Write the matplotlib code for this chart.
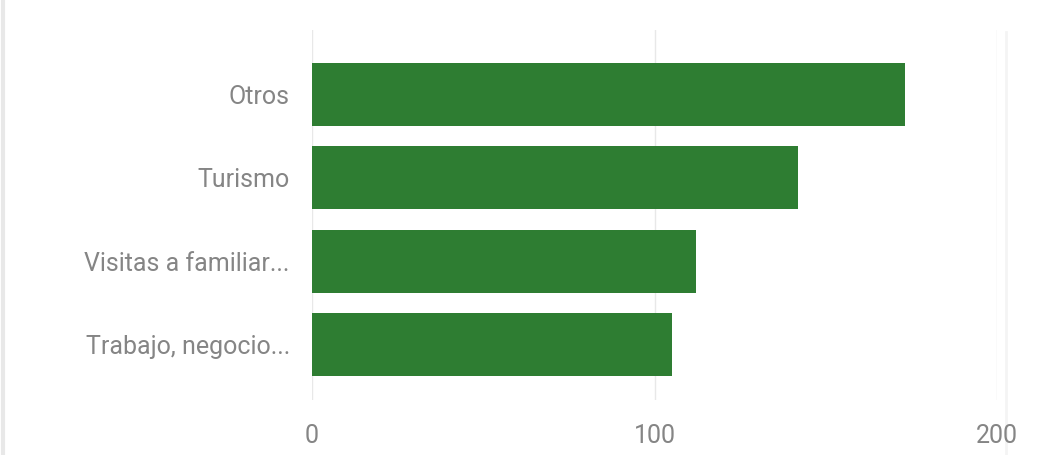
import matplotlib.pyplot as plt
from matplotlib.lines import Line2D

# categories from bottom to top
categories = ['Trabajo, negocio...', 'Visitas a familiar...', 'Turismo', 'Otros']
values = [105, 112, 142, 173]
xticks = [0, 100, 200]

fig = plt.figure(figsize=(10.5, 4.55), dpi=100)
ax = fig.add_axes([312 / 1050, 55 / 455, 685 / 1050, 370 / 455])

ax.barh(range(len(categories)), values, height=0.755, color='#2e7d32', zorder=2)

ax.set_xlim(0, 200)
ax.set_ylim(-0.66, 3.77)
ax.set_yticks(range(len(categories)))
ax.set_yticklabels(categories)
ax.set_xticks(xticks)
ax.grid(axis='x', color='#e8e8e8', linewidth=1, zorder=0)

for s in ax.spines.values():
    s.set_visible(False)
ax.tick_params(length=0, labelcolor='#858585', labelsize=18)
ax.tick_params(axis='x', pad=17)
ax.tick_params(axis='y', pad=16)
for lab in ax.get_xticklabels() + ax.get_yticklabels():
    lab.set_fontfamily('Roboto')

# faint card border at the edges
fig.add_artist(Line2D([0.003, 0.003], [0, 1], color='#e8e8e8', lw=3,
                      transform=fig.transFigure, zorder=-1))
fig.add_artist(Line2D([0.958, 0.958], [0, 0.93], color='#f4f4f4', lw=2,
                      transform=fig.transFigure, zorder=-1))

fig.savefig('out.png', dpi=100)
